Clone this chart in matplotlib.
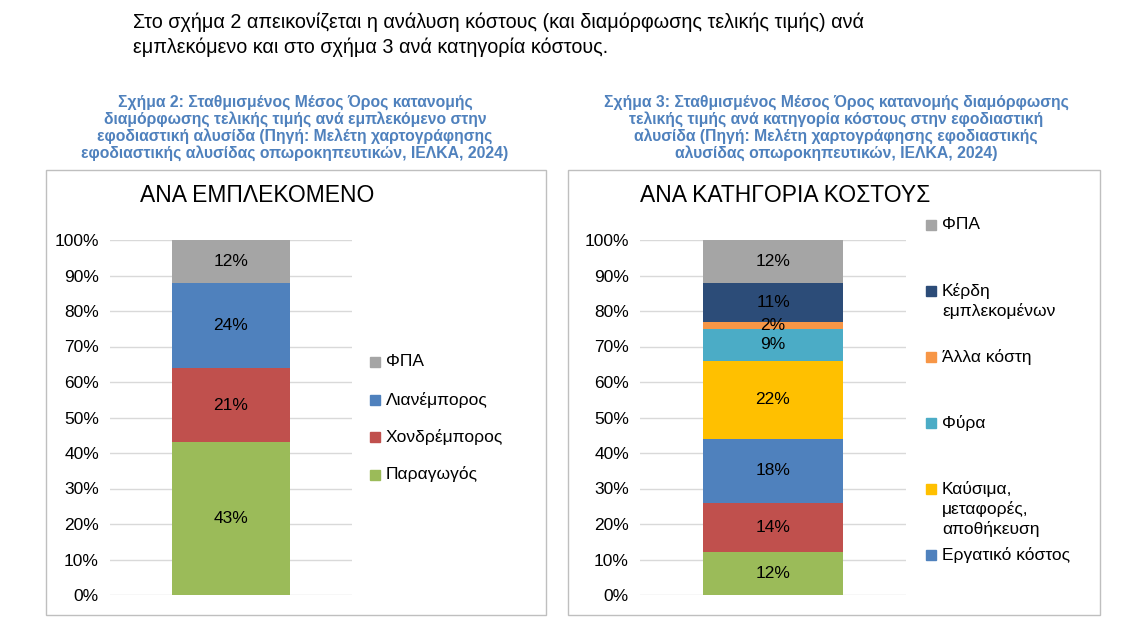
import matplotlib
matplotlib.use('Agg')
import matplotlib.pyplot as plt
from matplotlib.patches import Rectangle

plt.rcParams['font.family'] = 'Liberation Sans'

# data
left_labels = ['Παραγωγός', 'Χονδρέμπορος', 'Λιανέμπορος', 'ΦΠΑ']
left_values = [43, 21, 24, 12]
left_colors = ['#9BBB59', '#C0504D', '#4F81BD', '#A5A5A5']

right_values = [12, 14, 18, 22, 9, 2, 11, 12]
right_colors = ['#9BBB59', '#C0504D', '#4F81BD', '#FFC000', '#4BACC6', '#F79646', '#2C4C78', '#A5A5A5']
right_legend_colors = ['#4F81BD', '#FFC000', '#4BACC6', '#F79646', '#2C4C78', '#A5A5A5']
right_legend_labels = ['Εργατικό κόστος', 'Καύσιμα,\nμεταφορές,\nαποθήκευση',
                       'Φύρα', 'Άλλα κόστη', 'Κέρδη\nεμπλεκομένων', 'ΦΠΑ']

yticks = list(range(0, 101, 10))

W, H = 1142, 639
fig = plt.figure(figsize=(W / 100, H / 100), dpi=100)
fx = lambda x: x / W
fy = lambda y: 1 - y / H

fig.text(fx(133), fy(22), 'Στο σχήμα 2 απεικονίζεται η ανάλυση κόστους (και διαμόρφωσης τελικής τιμής) ανά',
         fontsize=14.2, va='center')
fig.text(fx(133), fy(47), 'εμπλεκόμενο και στο σχήμα 3 ανά κατηγορία κόστους.', fontsize=14.2, va='center')

cap_color = '#4F81BD'
fig.text(fx(295), fy(128), 'Σχήμα 2: Σταθμισμένος Μέσος Όρος κατανομής\nδιαμόρφωσης τελικής τιμής ανά εμπλεκόμενο στην\n'
         'εφοδιαστική αλυσίδα (Πηγή: Μελέτη χαρτογράφησης\nεφοδιαστικής αλυσίδας οπωροκηπευτικών, ΙΕΛΚΑ, 2024)',
         ha='center', va='center', fontsize=11.3, fontweight='bold', color=cap_color, linespacing=1.08)
fig.text(fx(836), fy(128), 'Σχήμα 3: Σταθμισμένος Μέσος Όρος κατανομής διαμόρφωσης\nτελικής τιμής ανά κατηγορία κόστους στην εφοδιαστική\n'
         'αλυσίδα (Πηγή: Μελέτη χαρτογράφησης εφοδιαστικής\nαλυσίδας οπωροκηπευτικών, ΙΕΛΚΑ, 2024)',
         ha='center', va='center', fontsize=11.3, fontweight='bold', color=cap_color, linespacing=1.08)

for x0, x1 in [(46, 546), (568, 1100)]:
    fig.patches.append(Rectangle((fx(x0), fy(615)), fx(x1 - x0), (615 - 170) / H,
                                 transform=fig.transFigure, fill=False, edgecolor='#BFBFBF', lw=1))


def stacked(ax, values, colors, width):
    bottom = 0
    for v, c in zip(values, colors):
        ax.bar(0, v, width, bottom=bottom, color=c)
        ax.text(0, bottom + v / 2, f'{v}%', ha='center', va='center', fontsize=12.5)
        bottom += v
    ax.set_xlim(-0.5, 0.5)
    ax.set_ylim(0, 100)
    ax.set_yticks(yticks)
    ax.set_yticklabels([f'{t}%' for t in yticks], fontsize=12.5)
    ax.set_xticks([])
    ax.grid(axis='y', color='#D9D9D9', lw=1)
    ax.set_axisbelow(True)
    for s in ax.spines.values():
        s.set_visible(False)
    ax.tick_params(axis='y', length=0, pad=8)


axl = fig.add_axes([fx(110), fy(595), fx(352 - 110), (595 - 240) / H])
stacked(axl, left_values, left_colors, 0.49)
fig.text(fx(140), fy(196), 'ΑΝΑ ΕΜΠΛΕΚΟΜΕΝΟ', fontsize=16.5, va='center')
for i, (lab, c) in enumerate(zip(left_labels[::-1], left_colors[::-1])):
    y = 362 + i * 37.5
    fig.patches.append(Rectangle((fx(370), fy(y + 5)), fx(10), 10 / H, transform=fig.transFigure, color=c))
    fig.text(fx(386), fy(y), lab, fontsize=12.5, va='center')

axr = fig.add_axes([fx(640), fy(595), fx(906 - 640), (595 - 240) / H])
stacked(axr, right_values, right_colors, 0.53)
fig.text(fx(640), fy(196), 'ΑΝΑ ΚΑΤΗΓΟΡΙΑ ΚΟΣΤΟΥΣ', fontsize=16.5, va='center')
for i, (lab, c) in enumerate(zip(right_legend_labels[::-1], right_legend_colors[::-1])):
    y = 225 + i * 66
    fig.patches.append(Rectangle((fx(926), fy(y + 5)), fx(10), 10 / H, transform=fig.transFigure, color=c))
    fig.text(fx(942), fy(y - 8), lab, fontsize=12.5, va='top', linespacing=1.3)

fig.savefig('out.png', dpi=100)
